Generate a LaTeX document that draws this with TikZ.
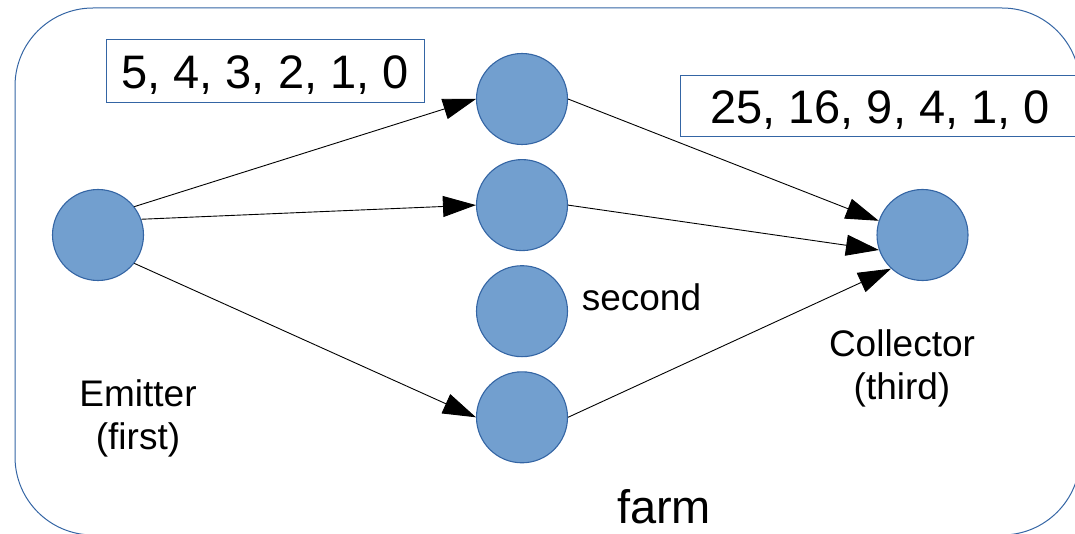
\documentclass[tikz,border=0pt]{standalone}
\usepackage{fontspec}
\setmainfont{Liberation Sans}
\usetikzlibrary{arrows.meta,positioning}

\definecolor{nodefill}{HTML}{729FCF}
\definecolor{nodeline}{HTML}{3465A4}

\begin{document}
\begin{tikzpicture}
    [
        x=1pt, y=-1pt,
        worker/.style={circle, minimum size=91pt, inner sep=0pt,
            fill=nodefill, draw=nodeline, line width=1.1pt},
        stream/.style={draw=nodeline, line width=1pt, inner sep=0pt,
            text height=34pt, text depth=0pt,
            font=\fontsize{47}{52}\selectfont},
        caption/.style={align=center, font=\fontsize{37}{43}\selectfont},
        ->, >={Triangle[length=33pt, width=21pt]}, line width=0.9pt
    ]
    \useasboundingbox (0,0) rectangle (1075,534);

    % farm boundary
    \draw[-, draw=nodeline, line width=1pt, rounded corners=78pt]
        (15,8) rectangle (1080,535);

    \node[worker] (emitter) at (98,235) {};
    \node[worker] (w1) at (522,99) {};
    \node[worker, below=14pt of w1] (w2) {};
    \node[worker, below=14pt of w2] (w3) {};
    \node[worker, below=14pt of w3] (w4) {};
    \node[worker] (collector) at (922.5,235) {};

    \node[stream, minimum width=318pt, minimum height=63pt] (input) at (265,71.5)
        {5, 4, 3, 2, 1, 0};
    \node[stream, minimum width=400pt, minimum height=61pt] (output) at (880,106.5)
        {25, 16, 9, 4, 1, 0};

    \node[caption] (emitterlabel) at (138,418) {Emitter \\ (first)};
    \node[caption, anchor=base west] (secondlabel)
        at ([xshift=10pt, yshift=1pt]w3.east) {second};
    \node[caption] (collectorlabel) at (902,368) {Collector \\ (third)};
    \node[anchor=base, font=\fontsize{47}{52}\selectfont] (farmlabel)
        at (664,523) {farm};

    \draw (emitter.38) -- (w1.west);
    \draw (emitter.20) -- (w2.west);
    \draw (emitter.-38) -- (w4.west);
    \draw (w1.east) -- (collector.162);
    \draw (w2.east) -- (collector.-161);
    \draw (w4.east) -- (collector.-133);
\end{tikzpicture}
\end{document}
